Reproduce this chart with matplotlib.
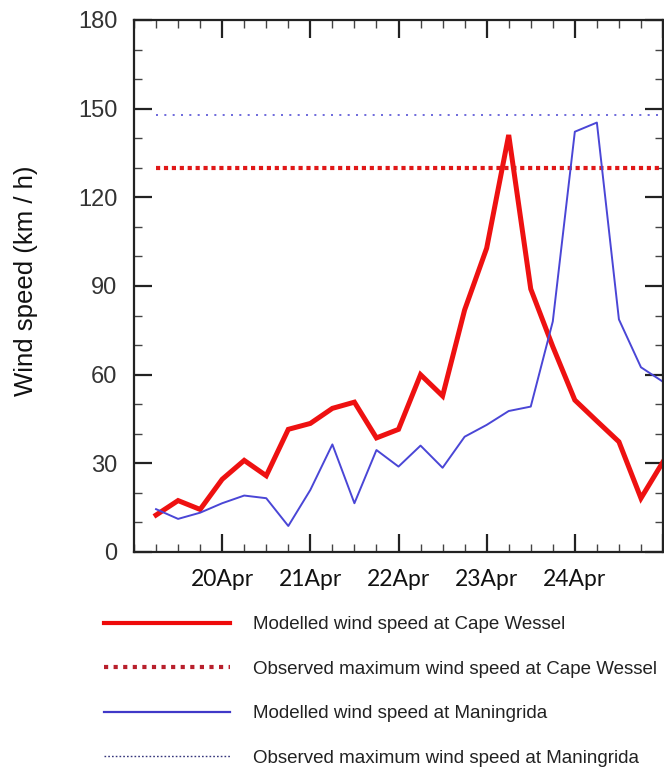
import matplotlib
matplotlib.use('Agg')
import matplotlib.pyplot as plt
from matplotlib.lines import Line2D
from matplotlib.ticker import FixedLocator, MultipleLocator

# hours since 19Apr 00 UTC, 6-hourly output
hours = [6, 12, 18, 24, 30, 36, 42, 48, 54, 60, 66, 72,
         78, 84, 90, 96, 102, 108, 114, 120, 126, 132, 138, 144]
cape_wessel = [12.5, 17.4, 14.4, 24.6, 31.0, 25.8, 41.5, 43.5, 48.6, 50.7, 38.6, 41.5,
               60.0, 52.8, 81.9, 102.8, 141.1, 89.0, 69.5, 51.4, 44.3, 37.3, 18.2, 30.5]
maningrida = [14.5, 11.2, 13.3, 16.5, 19.1, 18.2, 8.8, 21.0, 36.4, 16.5, 34.5, 28.9,
              36.0, 28.5, 39.0, 43.0, 47.7, 49.2, 78.0, 142.2, 145.3, 78.7, 62.5, 57.6]
obs_max_cape = 130
obs_max_maningrida = 148

day_ticks = [24, 48, 72, 96, 120]
day_labels = ['20Apr', '21Apr', '22Apr', '23Apr', '24Apr']

labels = ['Modelled wind speed at Cape Wessel',
          'Observed maximum wind speed at Cape Wessel',
          'Modelled wind speed at Maningrida',
          'Observed maximum wind speed at Maningrida']

plt.rcParams['font.family'] = ['Liberation Sans', 'DejaVu Sans']

fig = plt.figure(figsize=(6.64, 7.82), dpi=100)
ax = fig.add_axes([134/664, 230/782, 529/664, 532/782])

ax.plot(hours, cape_wessel, color='#ee1111', lw=3.6, solid_joinstyle='miter')
ax.plot([hours[0], hours[-1]], [obs_max_cape, obs_max_cape], color='#e01818',
        lw=3.0, linestyle=(0, (1, 0.9)))
ax.plot(hours, maningrida, color='#4a46d6', lw=1.4)
ax.plot([hours[0], hours[-1]], [obs_max_maningrida, obs_max_maningrida],
        color='#5550d6', lw=1.2, linestyle=(0, (1.2, 3.8)))

ax.set_xlim(0, 144)
ax.set_ylim(0, 180)
ax.set_yticks([0, 30, 60, 90, 120, 150, 180])
ax.yaxis.set_minor_locator(MultipleLocator(10))
ax.xaxis.set_major_locator(FixedLocator(day_ticks + [144]))
ax.set_xticklabels(day_labels + [''], fontfamily='Lato', fontsize=16.5)
ax.xaxis.set_minor_locator(MultipleLocator(6))

ax.tick_params(which='major', direction='in', length=13, width=1.6, color='#222222',
               top=True, right=True)
ax.tick_params(which='minor', direction='in', length=6, width=1.0, color='#444444',
               top=True, right=True)
ax.tick_params(axis='y', labelsize=17, pad=12, labelcolor='#333333')
ax.tick_params(axis='x', pad=12, labelcolor='#111111')
for s in ax.spines.values():
    s.set_linewidth(1.6)
    s.set_color('#222222')

ax.set_ylabel('Wind speed (km / h)', fontsize=18.5, color='#111111')
ax.yaxis.set_label_coords(-0.182, 0.51)

# legend keys as drawn in the original key box
handles = [Line2D([], [], color='#ee0a0a', lw=3.0),
           Line2D([], [], color='#b8202c', lw=3.0, linestyle=(0, (1, 1.3))),
           Line2D([], [], color='#4038c8', lw=1.6),
           Line2D([], [], color='#34347a', lw=1.0, linestyle=(0, (1.2, 1.5)))]

fs = 13.5
fs_px = fs * 100 / 72
fig.legend(handles, labels, loc='upper left',
           bbox_to_anchor=(104/664, 1 - 616/782), frameon=False,
           fontsize=fs, borderpad=0, borderaxespad=0,
           handlelength=126/fs_px, handletextpad=23/fs_px, labelspacing=1.46,
           labelcolor='#222222')

fig.savefig('out.png', dpi=100)
